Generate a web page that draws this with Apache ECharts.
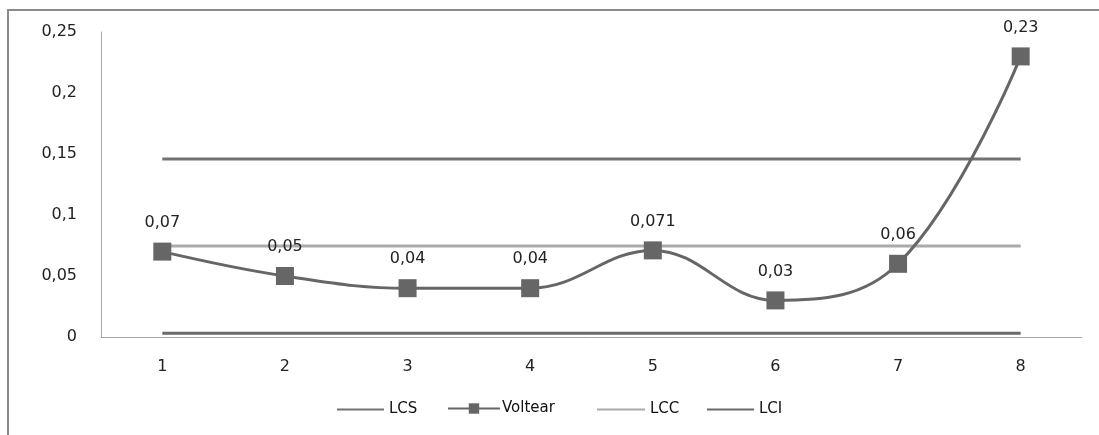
<!DOCTYPE html>
<html><head><meta charset="utf-8">
<script src="https://cdn.jsdelivr.net/npm/echarts@6/dist/echarts.min.js"></script>
<style>html,body{margin:0;padding:0;background:#fff}#c{width:1099px;height:435px}</style>
</head><body><div id="c"></div>
<script>
const categories = ['1','2','3','4','5','6','7','8'];
const yTicks = [0, 0.05, 0.1, 0.15, 0.2, 0.25];
const voltear = [0.07, 0.05, 0.04, 0.04, 0.071, 0.03, 0.06, 0.23];
const voltearLabels = ['0,07','0,05','0,04','0,04','0,071','0,03','0,06','0,23'];
const lcs = [0.146, 0.146, 0.146, 0.146, 0.146, 0.146, 0.146, 0.146];
const lcc = [0.0745, 0.0745, 0.0745, 0.0745, 0.0745, 0.0745, 0.0745, 0.0745];
const lci = [0.003, 0.003, 0.003, 0.003, 0.003, 0.003, 0.003, 0.003];

const font = 'DejaVu Sans';
const chart = echarts.init(document.getElementById('c'));
function legendLine(name, left, w) {
  return { data: [{ name: name, icon: 'rect' }], left: left, top: 402, itemWidth: w, itemHeight: 2, itemGap: 0,
    textStyle: { fontFamily: font, fontSize: 15, color: '#111', padding: [0,0,0,0] }, padding: 0 };
}
chart.setOption({
  animation: false,
  graphic: [{ type: 'rect', shape: { x: 8, y: 10, width: 1200, height: 600 },
    style: { fill: 'none', stroke: '#8a8a8a', lineWidth: 2 }, silent: true }],
  grid: { left: 101, right: 17, top: 32, bottom: 98 },
  legend: [
    legendLine('LCS', 337, 47),
    { data: ['Voltear'], left: 447, top: 401, itemWidth: 52, itemHeight: 13, itemGap: 0,
      textStyle: { fontFamily: font, fontSize: 15, color: '#111', padding: [0,0,0,-3] }, padding: 0 },
    legendLine('LCC', 597, 48),
    legendLine('LCI', 707, 47)
  ],
  xAxis: { type: 'category', data: categories, boundaryGap: true,
    axisLine: { lineStyle: { color: '#a8a8a8', width: 1 } }, axisTick: { show: false },
    axisLabel: { fontFamily: font, fontSize: 16, color: '#222', margin: 22 } },
  yAxis: { type: 'value', min: 0, max: 0.25, interval: 0.05,
    axisLine: { show: true, lineStyle: { color: '#a8a8a8', width: 1 } }, axisTick: { show: false },
    splitLine: { show: false },
    axisLabel: { fontFamily: font, fontSize: 16, color: '#222', margin: 24,
      formatter: v => { const i = yTicks.findIndex(t => Math.abs(t - v) < 1e-9); return String(i >= 0 ? yTicks[i] : v).replace('.', ','); } } },
  series: [
    { name: 'LCS', type: 'line', data: lcs, showSymbol: false, symbol: 'none',
      lineStyle: { color: '#727272', width: 3 }, itemStyle: { color: '#727272' }, z: 2 },
    { name: 'Voltear', type: 'line', data: voltear, smooth: 0.4, symbol: 'rect', symbolSize: 18,
      lineStyle: { color: '#666666', width: 3 }, itemStyle: { color: '#666666' }, z: 4,
      label: { show: true, position: 'top', distance: 12, fontFamily: font, fontSize: 16, color: '#222',
        formatter: p => voltearLabels[p.dataIndex] } },
    { name: 'LCC', type: 'line', data: lcc, showSymbol: false, symbol: 'none',
      lineStyle: { color: '#aaaaaa', width: 3 }, itemStyle: { color: '#aaaaaa' }, z: 3 },
    { name: 'LCI', type: 'line', data: lci, showSymbol: false, symbol: 'none',
      lineStyle: { color: '#6a6a6a', width: 3 }, itemStyle: { color: '#6a6a6a' }, z: 2 }
  ]
});
</script></body></html>
